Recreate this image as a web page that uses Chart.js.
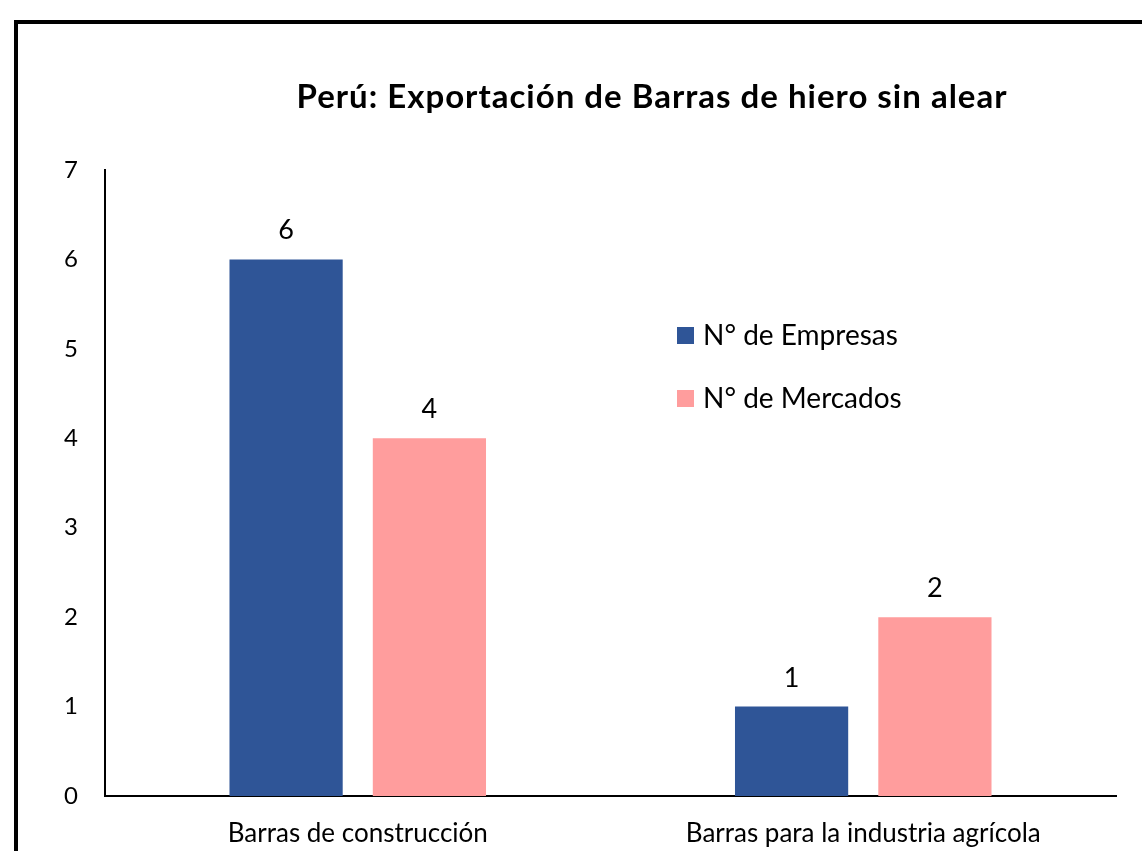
<!DOCTYPE html>
<html><head><meta charset="utf-8">
<script src="https://cdn.jsdelivr.net/npm/chart.js@4"></script>
<style>
html,body{margin:0;padding:0;background:#fff;overflow:hidden;}
#frame{position:absolute;left:14px;top:20px;width:1200px;height:900px;border:4px solid #000;box-sizing:border-box;}
#wrap{position:absolute;left:0;top:0;width:1142px;height:851px;}
</style></head><body>
<div id="frame"></div>
<div id="wrap"><canvas id="c" width="1142" height="851"></canvas></div>
<script>
const titleText = 'Perú: Exportación de Barras de hiero sin alear';
const categories = ['Barras de construcción', 'Barras para la industria agrícola'];
const empresas = [6, 1];
const mercados = [4, 2];
const seriesNames = ['N° de Empresas', 'N° de Mercados'];
const colors = ['#2F5597', '#FF9D9D'];
const FONT = 'Lato, "Open Sans", sans-serif';

const extras = {
  id: 'extras',
  afterDatasetsDraw(chart) {
    const ctx = chart.ctx;
    ctx.save();
    // value labels
    ctx.font = '27px ' + FONT;
    ctx.fillStyle = '#000';
    ctx.textAlign = 'center';
    ctx.textBaseline = 'alphabetic';
    chart.data.datasets.forEach((ds, i) => {
      chart.getDatasetMeta(i).data.forEach((bar, j) => {
        ctx.fillText(String(ds.data[j]), bar.x, bar.y - 20);
      });
    });
    // title
    ctx.font = 'bold 33px ' + FONT;
    if ('letterSpacing' in ctx) ctx.letterSpacing = '1px';
    ctx.fillText(titleText, 652, 108);
    if ('letterSpacing' in ctx) ctx.letterSpacing = '0px';
    // legend
    ctx.font = '28px ' + FONT;
    ctx.textAlign = 'left';
    chart.data.datasets.forEach((ds, i) => {
      const base = 345 + i * 63;
      ctx.fillStyle = ds.backgroundColor;
      ctx.fillRect(677, base - 18, 17, 17);
      ctx.fillStyle = '#000';
      ctx.fillText(ds.label, 703, base);
    });
    ctx.restore();
  }
};

new Chart(document.getElementById('c'), {
  type: 'bar',
  data: {
    labels: categories,
    datasets: [
      { label: seriesNames[0], data: empresas, backgroundColor: colors[0] },
      { label: seriesNames[1], data: mercados, backgroundColor: colors[1] }
    ]
  },
  options: {
    responsive: false,
    animation: false,
    events: [],
    datasets: { bar: { categoryPercentage: 0.567, barPercentage: 0.79 } },
    layout: { padding: { top: 170, right: 26, left: 0, bottom: 0 } },
    plugins: { legend: { display: false }, title: { display: false }, tooltip: { enabled: false } },
    scales: {
      x: {
        grid: { display: false, drawTicks: false },
        border: { display: true, color: '#000', width: 2 },
        ticks: { color: '#000', font: { family: FONT, size: 26 }, padding: 22 },
        afterFit(s) { s.height = 55; }
      },
      y: {
        min: 0, max: 7,
        grid: { display: false, drawTicks: false },
        border: { display: true, color: '#000', width: 2 },
        ticks: { stepSize: 1, color: '#000', font: { family: FONT, size: 24 }, padding: 27 },
        afterFit(s) { s.width = 105; }
      }
    }
  },
  plugins: [extras]
});
</script>
</body></html>
